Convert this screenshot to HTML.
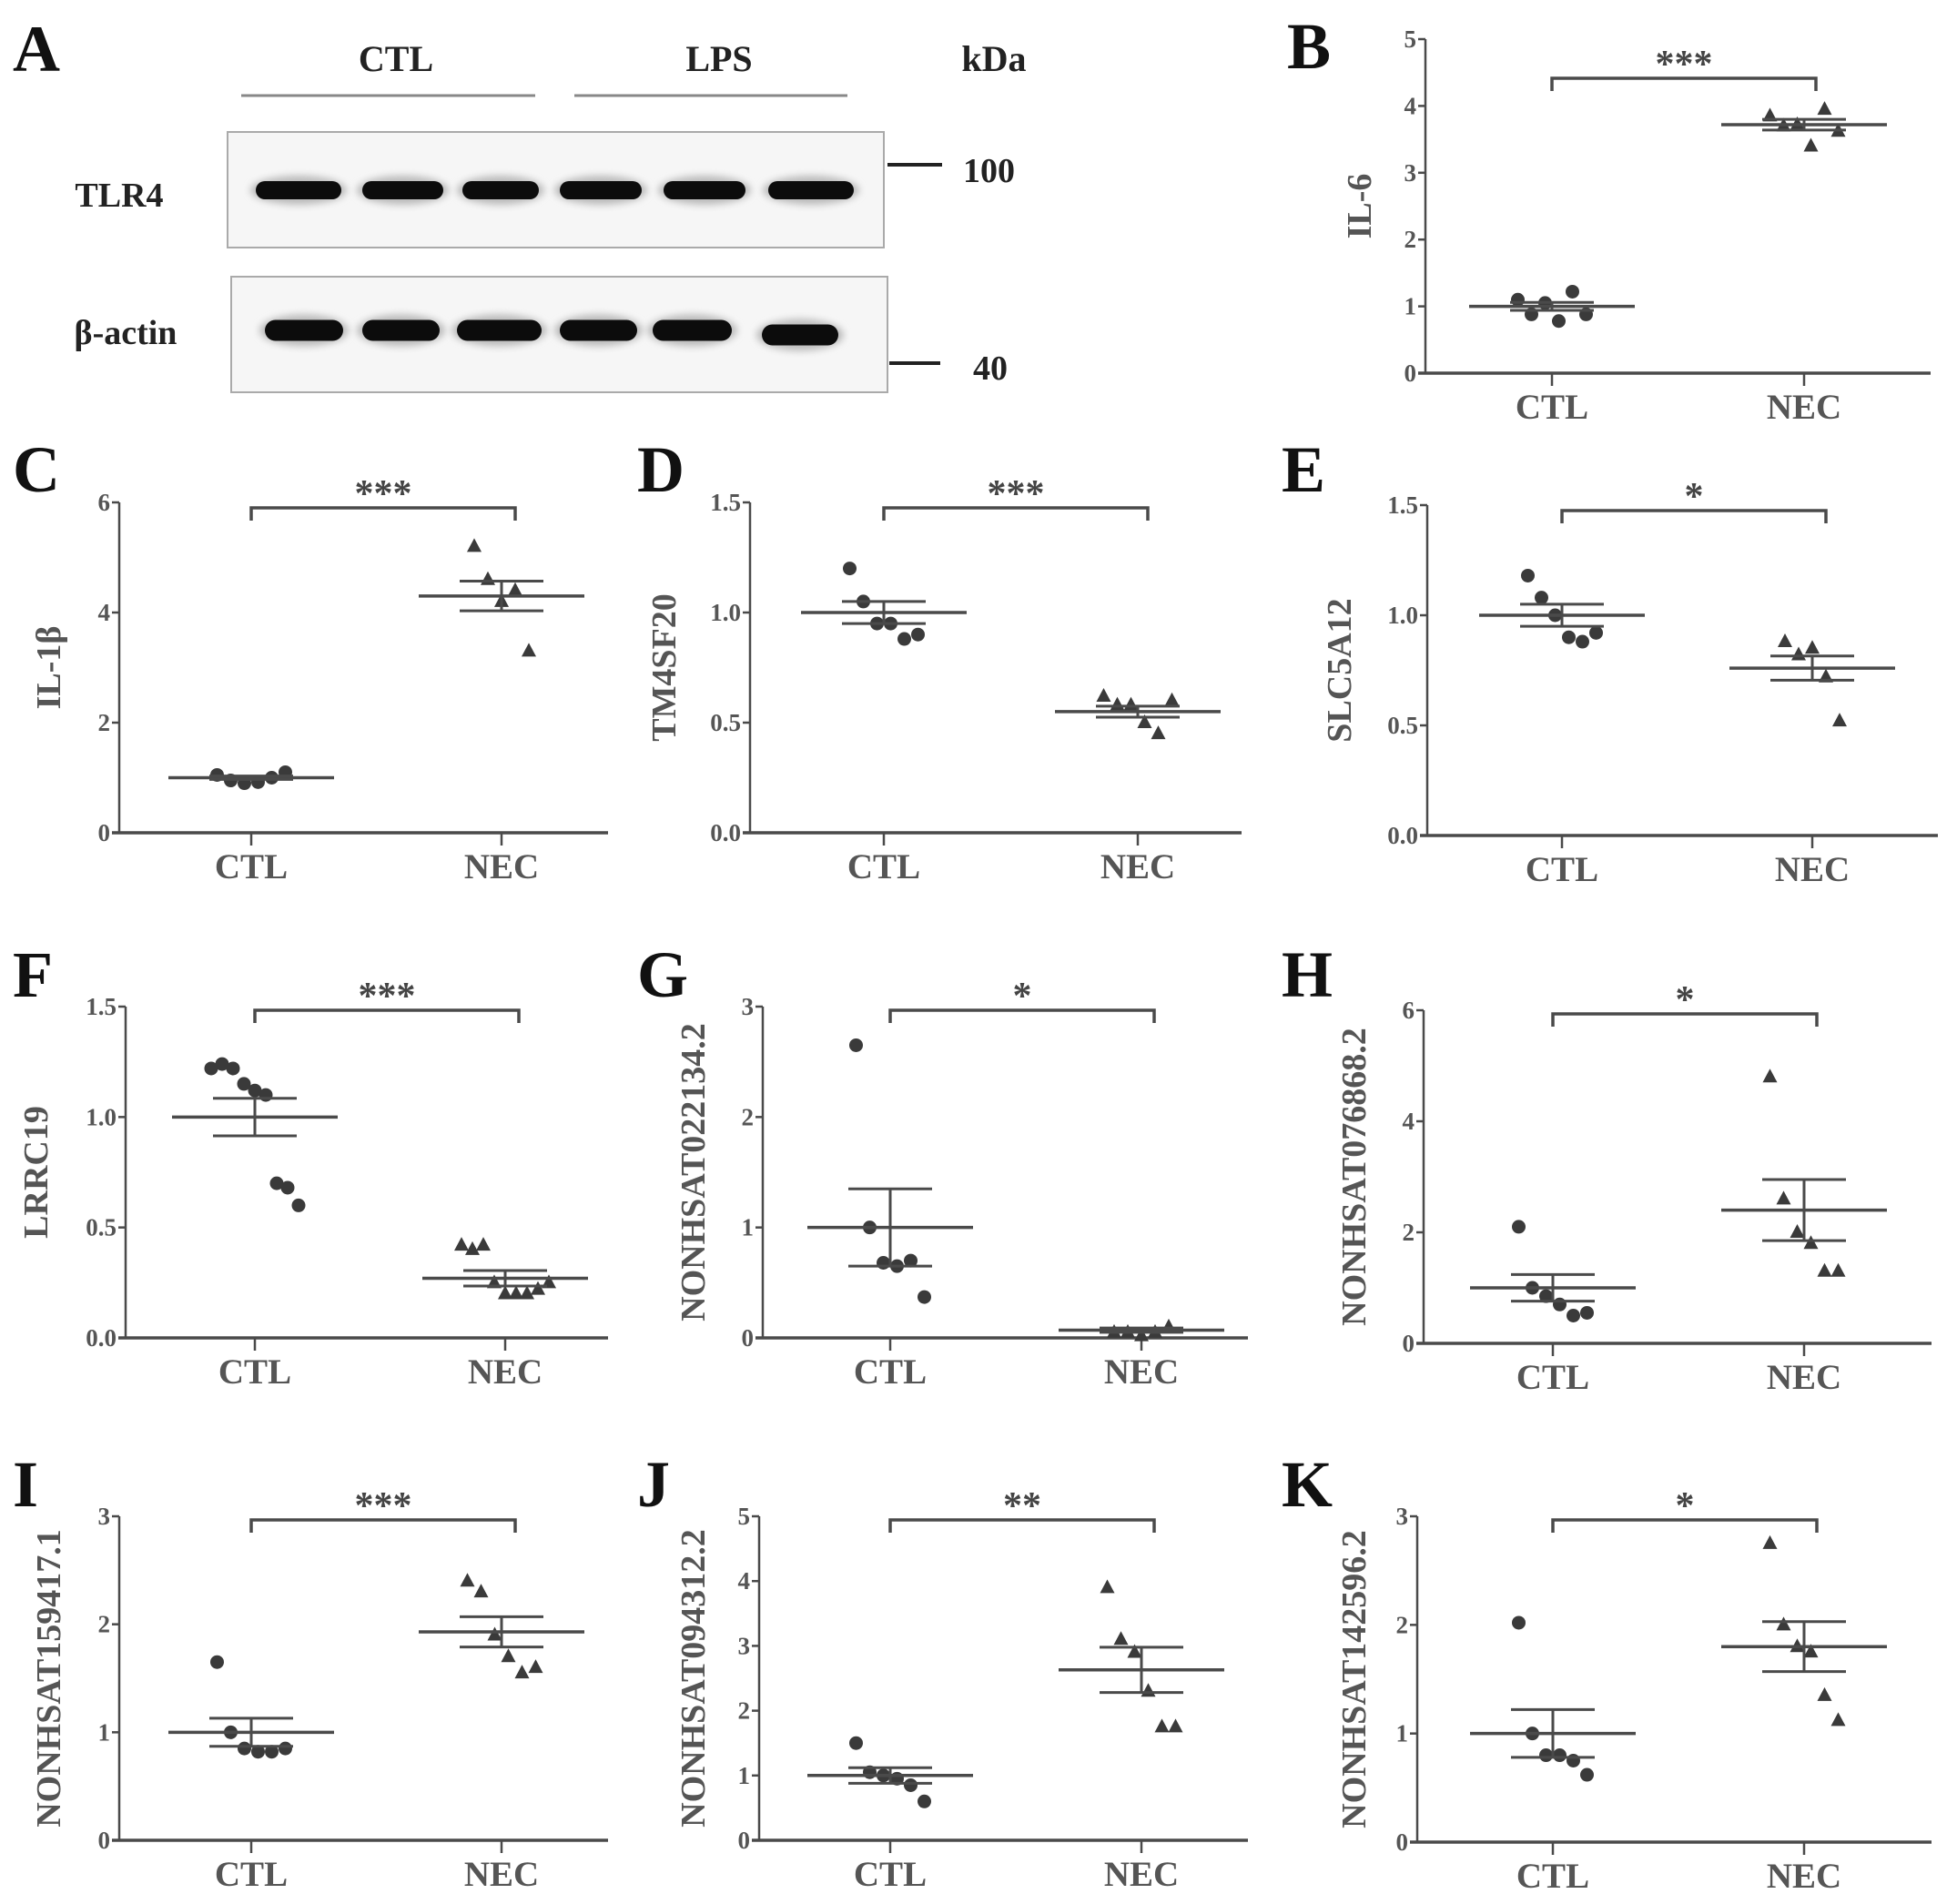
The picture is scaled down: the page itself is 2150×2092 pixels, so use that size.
<!DOCTYPE html>
<html><head><meta charset="utf-8">
<style>
html,body{margin:0;padding:0;background:#fff;}
svg{display:block;}
text{font-family:"Liberation Serif","DejaVu Serif",serif;}
</style></head>
<body>
<svg id="fig" xmlns="http://www.w3.org/2000/svg" width="2150" height="2092" viewBox="0 0 2150 2092">
<defs>
<filter id="blur" x="-20%" y="-80%" width="140%" height="260%"><feGaussianBlur stdDeviation="4"/></filter>
</defs>
<rect x="0" y="0" width="2150" height="2092" fill="#fff"/>
<g>
<text x="14" y="78" font-size="72" font-weight="bold" fill="#111">A</text>
<text x="435" y="78" font-size="40" font-weight="bold" fill="#222" text-anchor="middle">CTL</text>
<text x="790" y="78" font-size="40" font-weight="bold" fill="#222" text-anchor="middle">LPS</text>
<text x="1092" y="78" font-size="40" font-weight="bold" fill="#222" text-anchor="middle">kDa</text>
<line x1="265" y1="105" x2="588" y2="105" stroke="#888" stroke-width="3"/>
<line x1="631" y1="105" x2="931" y2="105" stroke="#888" stroke-width="3"/>
<rect x="250" y="145" width="721" height="127" fill="#f6f6f6" stroke="#aaa" stroke-width="2"/>
<rect x="254" y="304" width="721" height="127" fill="#f6f6f6" stroke="#aaa" stroke-width="2"/>
<text x="131" y="227" font-size="38" font-weight="bold" fill="#222" text-anchor="middle">TLR4</text>
<text x="138" y="378" font-size="38" font-weight="bold" fill="#222" text-anchor="middle">β-actin</text>
<line x1="975" y1="181" x2="1035" y2="181" stroke="#222" stroke-width="4"/>
<text x="1058" y="200" font-size="38" font-weight="bold" fill="#222">100</text>
<line x1="977" y1="399" x2="1033" y2="399" stroke="#222" stroke-width="4"/>
<text x="1069" y="417" font-size="38" font-weight="bold" fill="#222">40</text>
<g id="bands"></g>
</g>
<g id="charts"></g>
</svg>
<script>
const NS="http://www.w3.org/2000/svg";
const chartsG=document.getElementById('charts');
const bandsG=document.getElementById('bands');

const tlr4Lanes=[[281,375],[398,487],[508,592],[615,705],[729,819],[844,938]];
const actinLanes=[[291,377],[398,483],[502,595],[615,700],[717,804],[837,921]];
function band(r,cy,h,name){
  const g=document.createElementNS(NS,'ellipse');
  g.setAttribute('cx',(r[0]+r[1])/2);g.setAttribute('cy',cy);
  g.setAttribute('rx',(r[1]-r[0])/2+6);g.setAttribute('ry',h/2+6);
  g.setAttribute('fill','#bbb');g.setAttribute('filter','url(#blur)');
  bandsG.appendChild(g);
  const b=document.createElementNS(NS,'rect');
  b.setAttribute('x',r[0]);b.setAttribute('y',cy-h/2);
  b.setAttribute('width',r[1]-r[0]);b.setAttribute('height',h);
  b.setAttribute('rx',h/2);b.setAttribute('fill','#0c0c0c');
  
  
  bandsG.appendChild(b);
}
tlr4Lanes.forEach((r,i)=>band(r,209,20,'tlr4-band'));
actinLanes.forEach((r,i)=>band(r,i===5?368:363,23,'actin-band'));

const categories=["CTL","NEC"];
const panelLetters=["B","C","D","E","F","G","H","I","J","K"];
const yTitles=["IL-6","IL-1β","TM4SF20","SLC5A12","LRRC19","NONHSAT022134.2","NONHSAT076868.2","NONHSAT159417.1","NONHSAT094312.2","NONHSAT142596.2"];
const yMax=[5,6,1.5,1.5,1.5,3,6,3,5,3];
const yTickLabels=[["0","1","2","3","4","5"],["0","2","4","6"],["0.0","0.5","1.0","1.5"],["0.0","0.5","1.0","1.5"],["0.0","0.5","1.0","1.5"],["0","1","2","3"],["0","2","4","6"],["0","1","2","3"],["0","1","2","3","4","5"],["0","1","2","3"]];
const sigLabels=["***","***","***","*","***","*","*","***","**","*"];
const ctlValues=[
 [1.1,0.88,1.05,0.78,1.22,0.88],
 [1.05,0.95,0.9,0.92,1.0,1.1],
 [1.2,1.05,0.95,0.95,0.88,0.9],
 [1.18,1.08,1.0,0.9,0.88,0.92],
 [1.22,1.24,1.22,1.15,1.12,1.1,0.7,0.68,0.6],
 [2.65,1.0,0.68,0.65,0.7,0.37],
 [2.1,1.0,0.85,0.7,0.5,0.55],
 [1.65,1.0,0.85,0.82,0.82,0.85],
 [1.5,1.05,1.0,0.95,0.85,0.6],
 [2.02,1.0,0.8,0.8,0.75,0.62]];
const necValues=[
 [3.85,3.7,3.72,3.4,3.95,3.62],
 [5.2,4.6,4.2,4.4,3.3],
 [0.62,0.58,0.58,0.5,0.45,0.6],
 [0.88,0.82,0.85,0.72,0.52],
 [0.42,0.4,0.42,0.25,0.2,0.2,0.2,0.22,0.25],
 [0.05,0.05,0.02,0.05,0.1],
 [4.8,2.6,2.0,1.8,1.3,1.3],
 [2.4,2.3,1.9,1.7,1.55,1.6],
 [3.9,3.1,2.9,2.3,1.75,1.75],
 [2.75,2.0,1.8,1.75,1.35,1.12]];
const ctlMean=[1.0,1.0,1.0,1.0,1.0,1.0,1.0,1.0,1.0,1.0];
const ctlSem=[0.06,0.03,0.05,0.05,0.085,0.35,0.24,0.13,0.12,0.22];
const necMean=[3.72,4.3,0.55,0.76,0.27,0.07,2.4,1.93,2.63,1.8];
const necSem=[0.08,0.27,0.025,0.055,0.035,0.02,0.55,0.14,0.35,0.23];

const frames=[
 {ax:1566,y0:410,yT:43,xe:2121,c1:1705,c2:1982,sig:86,lx:1414,ly:75,tx:1506},
 {ax:131,y0:915,yT:552,xe:668,c1:276,c2:551,sig:558,lx:14,ly:540,tx:66},
 {ax:824,y0:915,yT:552,xe:1364,c1:971,c2:1250,sig:558,lx:700,ly:540,tx:742},
 {ax:1568,y0:918,yT:555,xe:2129,c1:1716,c2:1991,sig:561,lx:1408,ly:540,tx:1484},
 {ax:138,y0:1470,yT:1106,xe:668,c1:280,c2:555,sig:1110,lx:14,ly:1095,tx:52},
 {ax:838,y0:1470,yT:1106,xe:1371,c1:978,c2:1254,sig:1110,lx:700,ly:1095,tx:774},
 {ax:1564,y0:1476,yT:1110,xe:2122,c1:1706,c2:1982,sig:1114,lx:1408,ly:1095,tx:1500},
 {ax:131,y0:2022,yT:1666,xe:668,c1:276,c2:551,sig:1670,lx:14,ly:1655,tx:66},
 {ax:834,y0:2022,yT:1666,xe:1371,c1:978,c2:1254,sig:1670,lx:700,ly:1655,tx:774},
 {ax:1557,y0:2024,yT:1666,xe:2122,c1:1706,c2:1982,sig:1670,lx:1408,ly:1655,tx:1500}];

function el(tag,attrs,parent){const e=document.createElementNS(NS,tag);for(const k in attrs)e.setAttribute(k,attrs[k]);(parent||chartsG).appendChild(e);return e;}
const COL="#4a4a4a";

panelLetters.forEach((L,p)=>{
  const f=frames[p];
  const g=el('g',{});
  
  
  const ys=v=>f.y0-(v/yMax[p])*(f.y0-f.yT);
  const xs=i=>i===0?f.c1:f.c2;
  const lt=el('text',{x:f.lx,y:f.ly,'font-size':72,'font-weight':'bold',fill:'#111'},g);lt.textContent=L;
  
  
  const ya=el('line',{x1:f.ax,y1:f.yT,x2:f.ax,y2:f.y0,stroke:COL,'stroke-width':2.5},g);
  
  
  const xa=el('line',{x1:f.ax-8,y1:f.y0,x2:f.xe,y2:f.y0,stroke:COL,'stroke-width':3.5},g);
  
  
  const labs=yTickLabels[p];
  labs.forEach((t,i)=>{
    const v=yMax[p]*i/(labs.length-1);const y=ys(v);
    el('line',{x1:f.ax-8,y1:y,x2:f.ax,y2:y,stroke:COL,'stroke-width':2.5},g);
    const tt=el('text',{x:f.ax-10,y:y+9,'font-size':27,'font-weight':'bold',fill:'#555','text-anchor':'end'},g);
    tt.textContent=t;
    
    
  });
  categories.forEach((c,i)=>{
    const x=xs(i);
    el('line',{x1:x,y1:f.y0,x2:x,y2:f.y0+14,stroke:COL,'stroke-width':2.5},g);
    const ct=el('text',{x:x,y:f.y0+50,'font-size':39,'font-weight':'bold',fill:'#555','text-anchor':'middle'},g);
    ct.textContent=c;
    
    
  });
  const cy=(f.y0+f.yT)/2;
  const yt=el('text',{x:f.tx,y:cy,'font-size':38,'font-weight':'bold',fill:'#555','text-anchor':'middle',transform:`rotate(-90 ${f.tx} ${cy})`},g);
  yt.textContent=yTitles[p];
  
  
  const sb=el('path',{d:`M${f.c1} ${f.sig+14}V${f.sig}H${f.c1+290}V${f.sig+14}`,fill:'none',stroke:COL,'stroke-width':3.5},g);
  
  
  const st=el('text',{x:f.c1+145,y:f.sig-2,'font-size':42,'font-weight':'bold',fill:'#444','text-anchor':'middle'},g);
  st.textContent=sigLabels[p];
  
  
  [ctlValues[p],necValues[p]].forEach((vals,gi)=>{
    const n=vals.length;const sp=n>6?12:15;
    vals.forEach((v,i)=>{
      const x=xs(gi)+(i-(n-1)/2)*sp;const y=ys(v);
      let m;
      if(gi===0){m=el('circle',{cx:x,cy:y,r:7.5,fill:'#3a3a3a'},g);
        }
      else{m=el('path',{d:`M${x} ${y-9}L${x+8} ${y+6}L${x-8} ${y+6}Z`,fill:'#3a3a3a'},g);
        }
      
    });
  });
  [[ctlMean[p],ctlSem[p]],[necMean[p],necSem[p]]].forEach((ms,gi)=>{
    const x=xs(gi);const ym=ys(ms[0]),yh=ys(ms[0]+ms[1]),yl=ys(ms[0]-ms[1]);
    const ml=el('line',{x1:x-91,y1:ym,x2:x+91,y2:ym,stroke:COL,'stroke-width':3.5},g);
    
    
    const eb=el('path',{d:`M${x-46} ${yh}H${x+46}M${x-46} ${yl}H${x+46}M${x} ${yh}V${yl}`,fill:'none',stroke:COL,'stroke-width':3},g);
    
    
  });
});
</script>
</body></html>
